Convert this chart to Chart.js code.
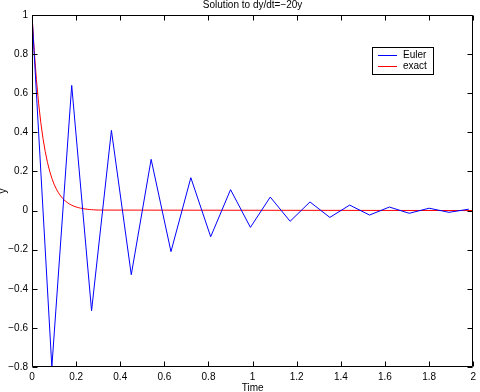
<!DOCTYPE html>
<html>
<head>
<meta charset="utf-8">
<script src="https://cdn.jsdelivr.net/npm/chart.js@4.4.1/dist/chart.umd.min.js"></script>
<style>
html,body{margin:0;padding:0;background:#fff;}
#c{display:block;}
</style>
</head>
<body>
<canvas id="c" width="480" height="392"></canvas>
<script>
const titleText = "Solution to dy/dt=\u221220y";
const xLabel = "Time";
const yLabel = "y";
const seriesNames = ["Euler", "exact"];

const eulerT = [0,0.09,0.18,0.27,0.36,0.45,0.54,0.63,0.72,0.81,0.90,0.99,1.08,1.17,1.26,1.35,1.44,1.53,1.62,1.71,1.80,1.89,1.98];
const eulerY = [1,-0.8,0.64,-0.512,0.41,-0.328,0.262,-0.21,0.168,-0.134,0.107,-0.086,0.069,-0.055,0.044,-0.035,0.028,-0.023,0.018,-0.014,0.012,-0.009,0.007];

const exactT = [0,0.01,0.02,0.03,0.04,0.05,0.06,0.07,0.08,0.09,0.10,0.11,0.12,0.13,0.14,0.15,0.16,0.17,0.18,0.19,0.20,0.21,0.22,0.23,0.24,0.25,0.26,0.27,0.28,0.30,2.0];
const exactY = [1,0.8187,0.6703,0.5488,0.4493,0.3679,0.3012,0.2466,0.2019,0.1653,0.1353,0.1108,0.0907,0.0743,0.0608,0.0498,0.0408,0.0334,0.0273,0.0224,0.0183,0.0150,0.0123,0.0101,0.0082,0.0067,0.0055,0.0045,0.0037,0.0025,0];

const xTicks = [0,0.2,0.4,0.6,0.8,1,1.2,1.4,1.6,1.8,2];
const yTicks = [-0.8,-0.6,-0.4,-0.2,0,0.2,0.4,0.6,0.8,1];

const FONT = "Liberation Sans, Arial, Helvetica, sans-serif";

function fmt(v){
  const r = Math.round(v*10)/10;
  let s = String(Math.abs(r));
  return (r < 0 ? "\u2212" : "") + s;
}

const framePlugin = {
  id: 'frame',
  afterDraw(chart){
    const ctx = chart.ctx;
    const a = chart.chartArea;
    const xs = chart.scales.x, ys = chart.scales.y;
    ctx.save();
    ctx.strokeStyle = '#000';
    ctx.lineWidth = 1;
    const L = Math.round(a.left)+0.5, R = Math.round(a.right)-0.5, T = Math.round(a.top)+0.5, B = Math.round(a.bottom)-0.5;
    ctx.beginPath();
    ctx.rect(L, T, R-L, B-T);
    const tl = 5;
    xTicks.forEach(v=>{
      const px = Math.round(xs.getPixelForValue(v))+0.5;
      ctx.moveTo(px, B); ctx.lineTo(px, B-tl);
      ctx.moveTo(px, T); ctx.lineTo(px, T+tl);
    });
    yTicks.forEach(v=>{
      const py = Math.round(ys.getPixelForValue(v))+0.5;
      ctx.moveTo(L, py); ctx.lineTo(L+tl, py);
      ctx.moveTo(R, py); ctx.lineTo(R-tl, py);
    });
    ctx.stroke();

    // title and axis labels
    ctx.fillStyle = '#000';
    ctx.font = "10px " + FONT;
    ctx.textAlign = 'center';
    ctx.textBaseline = 'alphabetic';
    const cx = (a.left + a.right)/2;
    ctx.fillText(titleText, cx, 8);
    ctx.fillText(xLabel, cx, 391);
    ctx.save();
    ctx.translate(6, (a.top + a.bottom)/2);
    ctx.rotate(-Math.PI/2);
    ctx.fillText(yLabel, 0, 0);
    ctx.restore();

    // legend
    const lx = 372, ly = 47, lw = 62, lh = 28;
    ctx.fillStyle = '#fff';
    ctx.fillRect(lx, ly, lw, lh);
    ctx.strokeStyle = '#000';
    ctx.strokeRect(lx+0.5, ly+0.5, lw-1, lh-1);
    const rows = [55, 66];
    chart.data.datasets.forEach((ds, i)=>{
      const y = rows[i] + 0.5;
      ctx.strokeStyle = ds.borderColor;
      ctx.beginPath();
      ctx.moveTo(378, y); ctx.lineTo(397, y);
      ctx.stroke();
      ctx.fillStyle = '#000';
      ctx.textAlign = 'left';
      ctx.textBaseline = 'middle';
      ctx.fillText(ds.label, 403, rows[i]+0.5);
    });
    ctx.restore();
  }
};

new Chart(document.getElementById('c'), {
  type: 'line',
  data: {
    datasets: [
      {
        label: seriesNames[0],
        data: eulerT.map((t,i)=>({x:t, y:eulerY[i]})),
        borderColor: '#0000ff',
        borderWidth: 1,
        pointRadius: 0,
        tension: 0,
        fill: false
      },
      {
        label: seriesNames[1],
        data: exactT.map((t,i)=>({x:t, y:exactY[i]})),
        borderColor: '#ff0000',
        borderWidth: 1,
        pointRadius: 0,
        tension: 0,
        fill: false
      }
    ]
  },
  options: {
    responsive: false,
    animation: false,
    devicePixelRatio: 1,
    layout: { padding: { top: 15, right: 2, left: 0, bottom: 0 } },
    plugins: { legend: { display: false }, title: { display: false }, tooltip: { enabled: false } },
    scales: {
      x: {
        type: 'linear', min: 0, max: 2,
        afterFit: s => { s.height = 25; },
        afterBuildTicks: s => { s.ticks = xTicks.map(v=>({value:v})); },
        grid: { display: false, drawTicks: false },
        border: { display: false },
        ticks: { padding: 4, color: '#000', font: { size: 10, family: FONT }, maxRotation: 0, autoSkip: false, callback: v => fmt(v) }
      },
      y: {
        type: 'linear', min: -0.8, max: 1,
        afterFit: s => { s.width = 32; },
        afterBuildTicks: s => { s.ticks = yTicks.map(v=>({value:v})); },
        grid: { display: false, drawTicks: false },
        border: { display: false },
        ticks: { padding: 4, color: '#000', font: { size: 10, family: FONT }, autoSkip: false, callback: v => fmt(v) }
      }
    }
  },
  plugins: [framePlugin]
});
</script>
</body>
</html>
